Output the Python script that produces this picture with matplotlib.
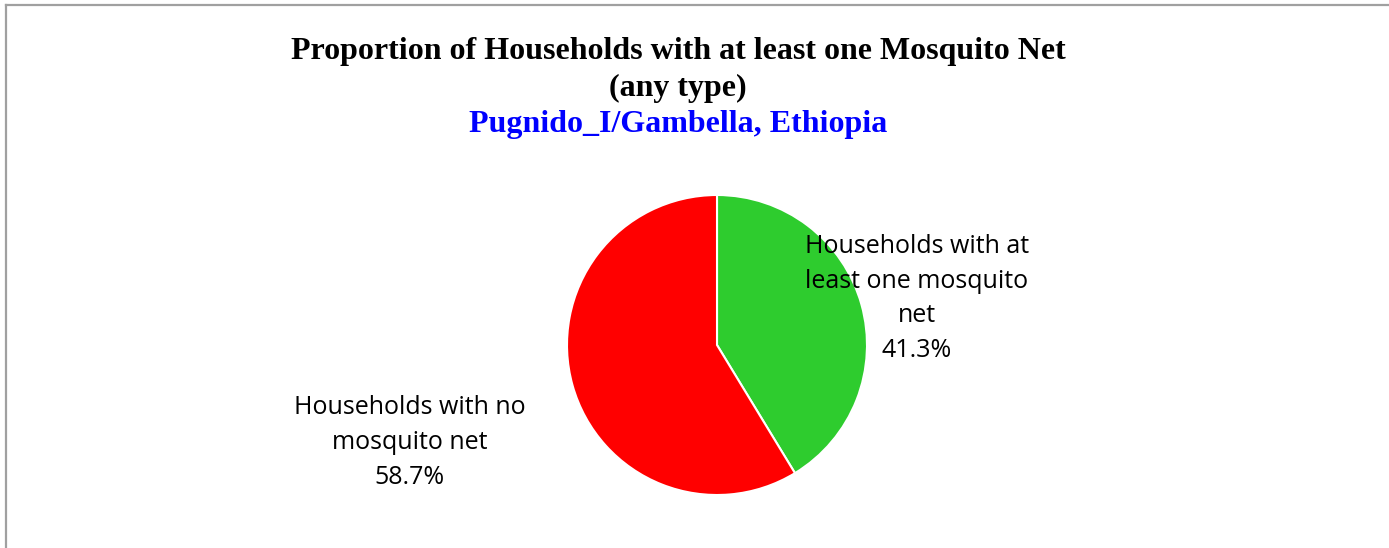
import matplotlib.pyplot as plt
from matplotlib.lines import Line2D

CATEGORIES = ["Households with at\nleast one mosquito\nnet", "Households with no\nmosquito net"]
VALUES = [41.3, 58.7]
COLORS = ["#2ecc2e", "#ff0000"]

TITLE_LINES = ["Proportion of Households with at least one Mosquito Net", "(any type)"]
SUBTITLE = "Pugnido_I/Gambella, Ethiopia"

W, H = 1389, 548
fig = plt.figure(figsize=(W / 100, H / 100), dpi=100)
fig.patch.set_facecolor("white")

# frame lines (left and top)
fig.add_artist(Line2D([5.5 / W, 5.5 / W], [0, 1 - 4.5 / H], color="#a0a0a0", lw=1.6,
                      transform=fig.transFigure))
fig.add_artist(Line2D([5.5 / W, 1], [1 - 4.5 / H, 1 - 4.5 / H], color="#a0a0a0", lw=1.6,
                      transform=fig.transFigure))

# titles
serif = "Liberation Serif"
fig.text(678 / W, 1 - 52 / H, TITLE_LINES[0], ha="center", va="center",
         fontsize=23, fontweight="bold", family=serif)
fig.text(678 / W, 1 - 88 / H, TITLE_LINES[1], ha="center", va="center",
         fontsize=23, fontweight="bold", family=serif)
fig.text(678 / W, 1 - 124 / H, SUBTITLE, ha="center", va="center",
         fontsize=23, fontweight="bold", family=serif, color="#0000ff")

# pie, centre (717, 345) px, radius 150 px
cx, cy, r = 717, 345, 150
ax = fig.add_axes([(cx - r) / W, (H - cy - r) / H, 2 * r / W, 2 * r / H])
ax.pie(VALUES, colors=COLORS, startangle=90, counterclock=False,
       wedgeprops=dict(edgecolor="white", linewidth=1.5))
ax.set_xlim(-1, 1)
ax.set_ylim(-1, 1)
ax.set_aspect("equal")
ax.axis("off")

label_pos = [(1.333, 0.31), (-2.05, -0.65)]
for cat, val, (lx, ly) in zip(CATEGORIES, VALUES, label_pos):
    ax.text(lx, ly, f"{cat}\n{val:.1f}%", ha="center", va="center", fontsize=18,
            family="Open Sans", linespacing=1.5, clip_on=False)

fig.savefig("out.png", dpi=100)
